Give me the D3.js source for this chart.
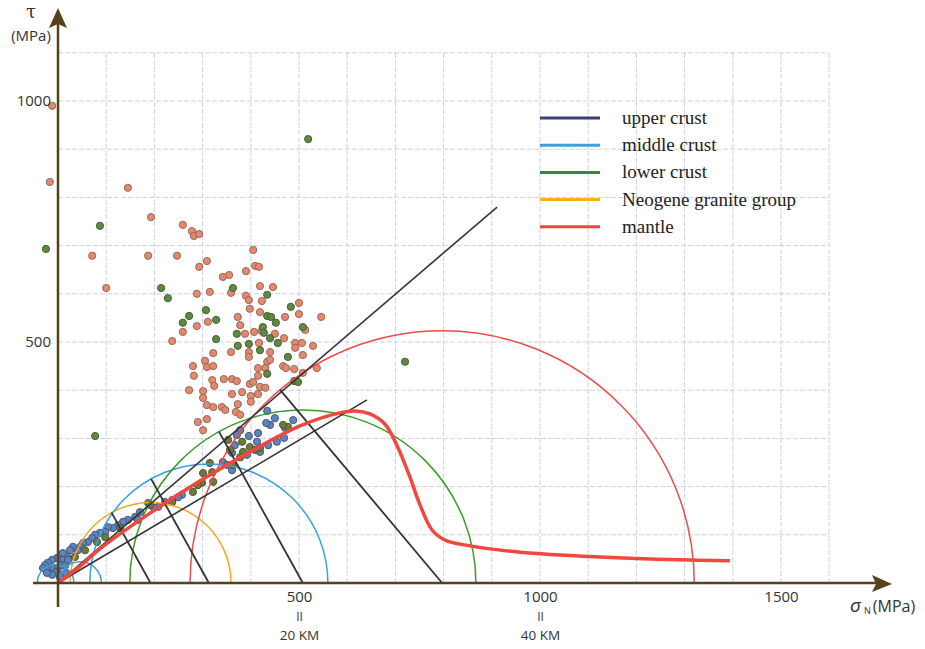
<!DOCTYPE html>
<html>
<head>
<meta charset="utf-8">
<script src="https://cdn.jsdelivr.net/npm/d3@7"></script>
<style>
  body { margin: 0; background: #fff; }
  .tick text { font-family: "Open Sans", sans-serif; fill: #333; }
</style>
</head>
<body>
<svg id="chart" width="925" height="649"></svg>
<script>
// ---- data (MPa) ----
const xTickValues = [500, 1000, 1500];
const xDepthLabels = { 500: '20 KM', 1000: '40 KM' };
const yTickValues = [500, 1000];

const legendNames = ['upper crust', 'middle crust', 'lower crust', 'Neogene granite group', 'mantle'];
const legendColors = ['#3b3f7a', '#3d9fe0', '#2f8a3a', '#f5b11e', '#f0443f'];

// Mohr circles: centre, radius (MPa), colour
const circleCenters = [192, 313, -5, 46, 508, 797];
const circleRadii = [167, 247, 38, 44, 359, 523];
const circleColors = ['#f5a623', '#3d9fe0', '#3d9fe0', '#3d9fe0', '#3a9a2a', '#f04a4a'];

// radii drawn to the envelope: circle index and angle (deg, from -x axis)
const radiusCircle = [0, 1, 4, 5];
const radiusAngle = [61, 61, 61, 50];

// failure envelopes through the origin: end points
const envelopeEnds = [[911, 780], [641, 380]];

// mantle strength curve
const mantleCurve = [
  [0, 0], [46, 35], [87, 71], [191, 145], [295, 212], [398, 272], [502, 326],
  [585, 353], [616, 357], [647, 351], [678, 330], [703, 286], [730, 220],
  [751, 162], [776, 110], [803, 89], [855, 77], [959, 64], [1124, 54],
  [1290, 48], [1394, 46]
];

// scatter: salmon (upper cloud)
const salmonPts = [
  [-12, 990], [-17, 832], [145, 820], [193, 759], [71, 679], [100, 612], [187, 679],
  [247, 679], [259, 743], [278, 730], [282, 720], [293, 724], [293, 656], [309, 668],
  [342, 635], [355, 639], [288, 600], [315, 604], [359, 602], [405, 691], [390, 647],
  [409, 658], [417, 656], [419, 616], [446, 614], [390, 596], [396, 587], [423, 585],
  [398, 569], [419, 562], [471, 552], [500, 581], [500, 558], [546, 552], [288, 533],
  [311, 542], [373, 552], [378, 535], [388, 517], [407, 521], [423, 523], [450, 517],
  [259, 521], [237, 502], [417, 498], [469, 508], [492, 498], [506, 498], [513, 525],
  [529, 492], [322, 477], [359, 479], [396, 479], [396, 469], [440, 479], [492, 488],
  [508, 473], [280, 450], [305, 461], [309, 448], [322, 450], [415, 446], [434, 459],
  [430, 446], [440, 463], [467, 450], [473, 446], [490, 444], [415, 430], [508, 436],
  [537, 446], [282, 430], [320, 421], [324, 409], [344, 423], [361, 423], [371, 419],
  [398, 413], [405, 417], [419, 407], [430, 405], [272, 400], [301, 398], [382, 396],
  [301, 384], [361, 392], [400, 388], [415, 392], [309, 369], [322, 365], [340, 365],
  [347, 359], [373, 371], [400, 376], [369, 355], [378, 349], [309, 340], [290, 334],
  [301, 317]
];

// scatter: green (upper cloud)
const greenPts = [
  [-25, 693], [519, 921], [87, 741], [363, 612], [214, 612], [228, 591], [77, 305],
  [720, 459], [434, 598], [307, 566], [272, 554], [434, 554], [442, 552], [452, 540],
  [483, 573], [259, 540], [328, 546], [371, 517], [425, 531], [427, 519], [440, 508],
  [328, 506], [373, 492], [396, 496], [456, 498], [508, 531], [419, 483], [477, 469],
  [434, 434], [490, 419], [498, 417]
];

// scatter: blue (band along the envelopes)
const bluePts = [
  [434, 357], [450, 342], [440, 328], [432, 332], [488, 338], [471, 322], [469, 301],
  [454, 293], [436, 286], [415, 311], [413, 293], [419, 272], [396, 305], [392, 266],
  [378, 317], [371, 307], [367, 286], [361, 270], [342, 251], [361, 234], [351, 245],
  [257, 183], [249, 178], [237, 172], [222, 168], [208, 158], [199, 156], [187, 166],
  [170, 147], [160, 137], [166, 131], [145, 131], [135, 127], [125, 120], [114, 114],
  [104, 116], [98, 106], [87, 104], [77, 100], [71, 93], [62, 85], [52, 83], [46, 75],
  [41, 68], [31, 75], [25, 68], [19, 54], [10, 62], [8, 48], [-2, 52], [-12, 48],
  [-21, 42], [-27, 37], [-31, 31], [-21, 27], [-10, 31], [0, 31], [8, 37], [15, 37],
  [21, 48], [-2, 23], [-12, 17], [15, 21], [4, 12], [-23, 21]
];

// scatter: olive (band along the envelopes)
const olivePts = [
  [382, 293], [384, 272], [398, 282], [409, 276], [419, 280], [378, 261], [363, 245],
  [353, 297], [357, 276], [315, 249], [320, 230], [301, 228], [299, 208], [280, 189],
  [322, 210], [237, 168], [290, 203], [477, 324], [467, 328], [98, 95], [81, 85],
  [56, 68], [35, 54], [191, 162], [129, 114]
];

// ---- layout ----
const svg = d3.select('#chart');
const pxPerMPa = 0.482;
const x = d3.scaleLinear().domain([0, 1600]).range([58, 58 + 1600 * pxPerMPa]);
const y = d3.scaleLinear().domain([0, 1100]).range([583, 583 - 1100 * pxPerMPa]);
const axisColor = '#56421f';

// grid
const grid = svg.append('g').attr('class', 'grid');
grid.selectAll('line.v')
  .data(d3.range(100, 1601, 100))
  .enter().append('line')
  .attr('x1', d => x(d)).attr('x2', d => x(d))
  .attr('y1', y(0)).attr('y2', y(1100));
grid.selectAll('line.h')
  .data(d3.range(100, 1101, 100))
  .enter().append('line')
  .attr('y1', d => y(d)).attr('y2', d => y(d))
  .attr('x1', x(0)).attr('x2', x(1600));
grid.selectAll('line')
  .attr('stroke', '#cfd2de')
  .attr('stroke-width', 1)
  .attr('stroke-dasharray', '5,2');

// scatter points
function drawPoints(pts, fill, stroke) {
  svg.append('g').selectAll('circle')
    .data(pts)
    .enter().append('circle')
    .attr('cx', d => x(d[0]))
    .attr('cy', d => y(d[1]))
    .attr('r', 3.6)
    .attr('fill', fill)
    .attr('stroke', stroke)
    .attr('stroke-width', 1);
}
drawPoints(bluePts, '#5b84c2', '#4d5566');
drawPoints(olivePts, '#6c7a3c', '#4f5535');
drawPoints(salmonPts, '#e8876a', '#8f6a5e');
drawPoints(greenPts, '#5d8c3c', '#4a5a3a');

// Mohr circles
const rPx = r => x(r) - x(0);
circleCenters.forEach((c, i) => {
  const p = d3.path();
  const cx = x(c), r = rPx(circleRadii[i]);
  p.moveTo(cx - r, y(0));
  p.arc(cx, y(0), r, Math.PI, 2 * Math.PI);
  svg.append('path')
    .attr('d', p.toString())
    .attr('fill', 'none')
    .attr('stroke', circleColors[i])
    .attr('stroke-width', 1.5);
});

// envelopes
const line = d3.line().x(d => x(d[0])).y(d => y(d[1]));
envelopeEnds.forEach(e => {
  svg.append('path')
    .attr('d', line([[0, 0], e]))
    .attr('stroke', '#333')
    .attr('stroke-width', 1.6)
    .attr('fill', 'none');
});

// radius lines
radiusCircle.forEach((ci, i) => {
  const a = radiusAngle[i] * Math.PI / 180;
  const c = circleCenters[ci], r = circleRadii[ci];
  svg.append('path')
    .attr('d', line([[c, 0], [c - r * Math.cos(a), r * Math.sin(a)]]))
    .attr('stroke', '#333')
    .attr('stroke-width', 1.8)
    .attr('fill', 'none');
});

// mantle strength curve
svg.append('path')
  .attr('d', line.curve(d3.curveCatmullRom)(mantleCurve))
  .attr('stroke', '#f2473f')
  .attr('stroke-width', 3.5)
  .attr('fill', 'none');

// axes lines + arrows
svg.append('line')
  .attr('x1', 33).attr('x2', 878).attr('y1', y(0)).attr('y2', y(0))
  .attr('stroke', axisColor).attr('stroke-width', 2.5);
svg.append('path')
  .attr('d', `M892,${y(0) + 1}L872,${y(0) - 8}L876,${y(0) + 1}L872,${y(0) + 9}Z`)
  .attr('fill', axisColor);
svg.append('line')
  .attr('x1', x(0)).attr('x2', x(0)).attr('y1', 607).attr('y2', 24)
  .attr('stroke', axisColor).attr('stroke-width', 2.5);
svg.append('path')
  .attr('d', `M${x(0)},8L${x(0) - 9},28L${x(0)},24L${x(0) + 9},28Z`)
  .attr('fill', axisColor);

// x tick labels
const xAxis = svg.append('g')
  .attr('transform', `translate(0,${y(0)})`)
  .call(d3.axisBottom(x).tickValues(xTickValues).tickFormat(d3.format('d'))
    .tickSize(0).tickPadding(8));
xAxis.select('.domain').remove();
xAxis.selectAll('.tick text').attr('font-size', 15);
xAxis.selectAll('.tick').each(function(d) {
  if (!xDepthLabels[d]) return;
  const g = d3.select(this);
  g.append('text').attr('y', 38).attr('text-anchor', 'middle')
    .attr('font-size', 12).attr('fill', '#333')
    .attr('font-family', '"Open Sans", sans-serif').text('II');
  g.append('text').attr('y', 57).attr('text-anchor', 'middle')
    .attr('font-size', 13.5).attr('fill', '#333')
    .attr('font-family', '"Open Sans", sans-serif').text(xDepthLabels[d]);
});

// y tick labels
const yAxis = svg.append('g')
  .attr('transform', `translate(${x(0)},0)`)
  .call(d3.axisLeft(y).tickValues(yTickValues).tickFormat(d3.format('d'))
    .tickSize(0).tickPadding(7));
yAxis.select('.domain').remove();
yAxis.selectAll('.tick text').attr('font-size', 15);

// axis titles
svg.append('text').attr('x', 31).attr('y', 18).attr('text-anchor', 'middle')
  .attr('font-family', '"DejaVu Serif", serif').attr('font-size', 18).attr('fill', '#333')
  .text('τ');
svg.append('text').attr('x', 31).attr('y', 41).attr('text-anchor', 'middle')
  .attr('font-family', '"Open Sans", sans-serif').attr('font-size', 15).attr('fill', '#333')
  .text('(MPa)');
const xTitle = svg.append('text').attr('x', 850).attr('y', 612)
  .attr('font-family', '"Open Sans", sans-serif').attr('fill', '#333');
xTitle.append('tspan').attr('font-size', 19).attr('font-style', 'italic').text('σ');
xTitle.append('tspan').attr('font-size', 9).attr('dx', 3).attr('dy', 2).text('N');
xTitle.append('tspan').attr('font-size', 16).attr('dx', 2).attr('dy', -2).text('(MPa)');

// legend
const legend = svg.append('g').attr('transform', 'translate(540,118)');
const items = legend.selectAll('g')
  .data(legendNames)
  .enter().append('g')
  .attr('transform', (d, i) => `translate(0,${i * 27.2})`);
items.append('line')
  .attr('x1', 0).attr('x2', 60)
  .attr('stroke', (d, i) => legendColors[i])
  .attr('stroke-width', 3);
items.append('text')
  .attr('x', 82).attr('y', 6)
  .attr('font-family', '"Liberation Serif", "Times New Roman", serif')
  .attr('font-size', 19)
  .attr('fill', '#222')
  .text(d => d);
</script>
</body>
</html>
